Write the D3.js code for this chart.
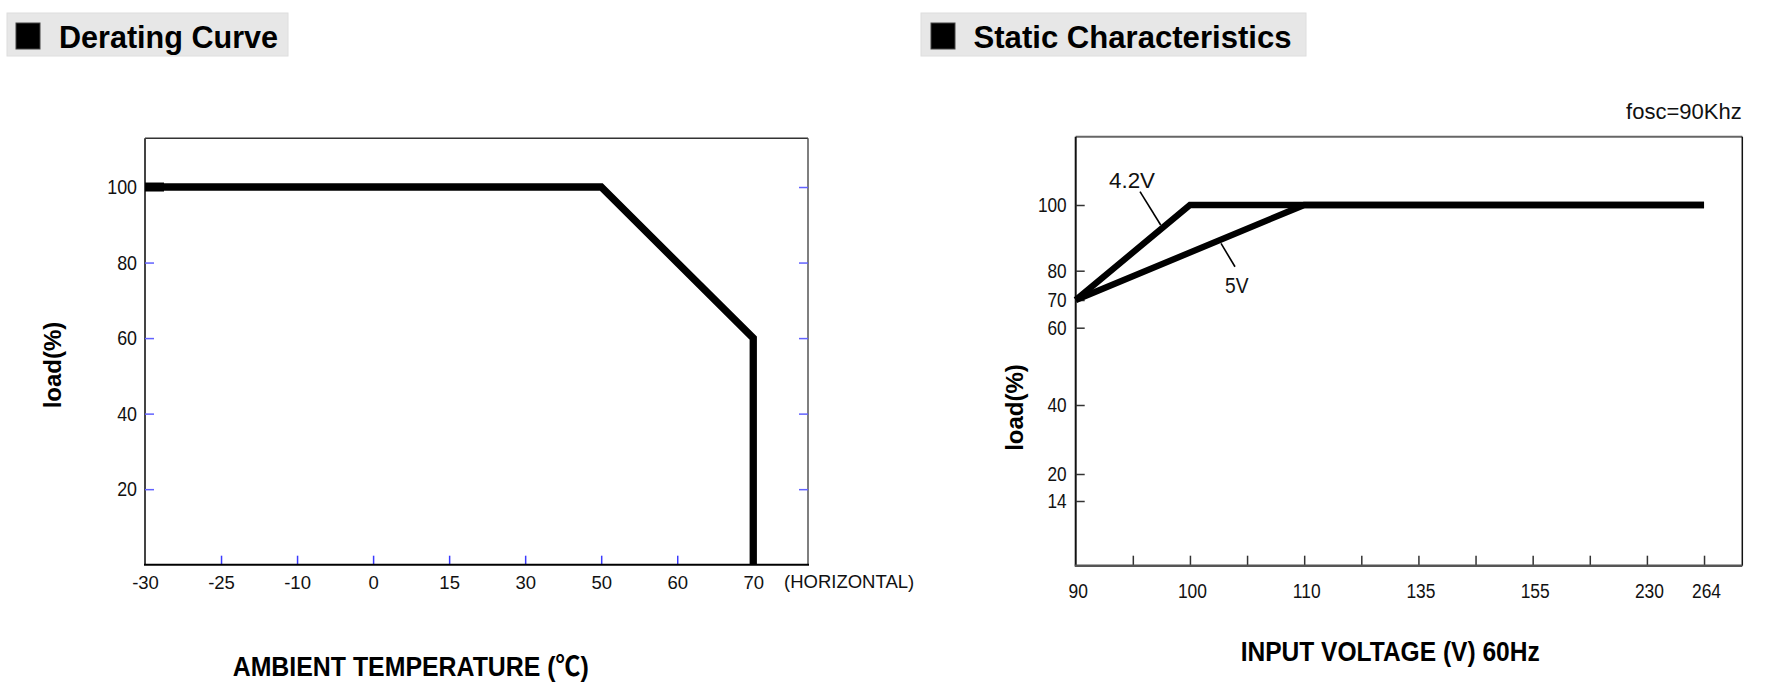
<!DOCTYPE html>
<html><head><meta charset="utf-8">
<script src="https://cdn.jsdelivr.net/npm/d3@7"></script>
<style>
html,body{margin:0;padding:0;background:#fff;}
svg text{font-family:"Liberation Sans",Arial,"Noto Sans CJK SC",sans-serif;}
</style>
</head><body>
<script>
// ---------- DATA ----------
const tempCats = ["-30","-25","-10","0","15","30","50","60","70"];
const loadTicksL = [20,40,60,80,100];
const deratingTemp = ["-30","50","70","70"];
const deratingLoad = [100,100,60,0];

const voltCats = ["90","","100","","110","","135","","155","","230","264"];
const loadTicksR = [100,80,70,60,40,20,14];
const volt42V = ["90","100","264"];
const load42V = [70,100,100];
const volt5V = ["90","110","264"];
const load5V = [70,100,100];

// ---------- SETUP ----------
const W = 1782, H = 696;
const svg = d3.select("body").append("svg").attr("width",W).attr("height",H);
svg.append("rect").attr("width",W).attr("height",H).attr("fill","#fff");

function fit(sel, width){
  sel.each(function(){ this.setAttribute("textLength", width); this.setAttribute("lengthAdjust","spacingAndGlyphs"); });
}
function condense(sel, f){
  sel.each(function(){
    const w = this.getComputedTextLength();
    if (w>0){ this.setAttribute("textLength", w*f); this.setAttribute("lengthAdjust","spacingAndGlyphs"); }
  });
}

function titleBox(x0, x1, sq0, tx, tw, label){
  svg.append("rect").attr("x",x0).attr("y",13).attr("width",x1-x0).attr("height",43)
    .attr("fill","#e7e7e7").attr("stroke","#dedede").attr("stroke-width",1);
  svg.append("rect").attr("x",sq0).attr("y",23).attr("width",24).attr("height",26)
    .attr("fill","#000").attr("stroke","#444").attr("stroke-width",1);
  const t = svg.append("text").attr("x",tx).attr("y",48).attr("font-size",32)
    .attr("font-weight","bold").attr("fill","#000").text(label);
  fit(t, tw);
}
titleBox(7, 288, 16, 59, 219, "Derating Curve");
titleBox(921, 1306, 931, 973.5, 318, "Static Characteristics");

// ---------- LEFT CHART ----------
const xL = d3.scaleLinear().domain([0, 8.72]).range([145, 808]);
const yL = d3.scaleLinear().domain([0, 112.9]).range([564.7, 138.3]);
const [lx0, lx1] = xL.range(), [ly0, ly1] = yL.range();

// frame
svg.append("line").attr("x1",lx0).attr("x2",lx1).attr("y1",ly1).attr("y2",ly1).attr("stroke","#333").attr("stroke-width",1.5);
svg.append("line").attr("x1",lx1).attr("x2",lx1).attr("y1",ly1).attr("y2",ly0).attr("stroke","#555").attr("stroke-width",1.5);
svg.append("line").attr("x1",lx0).attr("x2",lx0).attr("y1",ly1).attr("y2",ly0).attr("stroke","#444").attr("stroke-width",2);

const blue = "#6262ff";
// left y axis
const gyl = svg.append("g").attr("transform",`translate(${lx0},0)`)
  .call(d3.axisLeft(yL).tickValues(loadTicksL).tickSize(-9).tickPadding(8));
gyl.select(".domain").remove();
gyl.selectAll("line").attr("stroke",blue).attr("stroke-width",1.5);
gyl.selectAll("text").attr("font-size",21).attr("fill","#111").attr("font-family",null);
condense(gyl.selectAll("text"), 0.85);
// right-side inner ticks
const gyr = svg.append("g").attr("transform",`translate(${lx1},0)`)
  .call(d3.axisRight(yL).tickValues(loadTicksL).tickSize(-9).tickFormat(""));
gyr.select(".domain").remove();
gyr.selectAll("line").attr("stroke",blue).attr("stroke-width",1.5);
// bottom axis
const gxl = svg.append("g").attr("transform",`translate(0,${ly0})`)
  .call(d3.axisBottom(xL).tickValues(d3.range(tempCats.length)).tickFormat(i=>tempCats[i]).tickSize(-9).tickPadding(11));
gxl.select(".domain").remove();
gxl.selectAll("line").attr("stroke","#3a3aff").attr("stroke-width",1.5).filter(d=>d===0).remove();
gxl.selectAll("text").attr("font-size",18.5).attr("fill","#111");
svg.append("line").attr("x1",lx0-1).attr("x2",lx1+1).attr("y1",ly0).attr("y2",ly0).attr("stroke","#000").attr("stroke-width",2);

// derating line
const derating = deratingTemp.map((t,i)=>({t, v:deratingLoad[i]}));
svg.append("path").datum(derating)
  .attr("d", d3.line().x(d=>xL(tempCats.indexOf(d.t))).y(d=>yL(d.v)))
  .attr("fill","none").attr("stroke","#000").attr("stroke-width",7.3).attr("stroke-linejoin","miter");
// slightly heavier start of the 100% line, as in the reference
svg.append("line").attr("x1",xL(0)).attr("x2",xL(0.25)).attr("y1",yL(deratingLoad[0])).attr("y2",yL(deratingLoad[0]))
  .attr("stroke","#000").attr("stroke-width",9);

svg.append("text").attr("x",784).attr("y",588).attr("font-size",18.5).attr("fill","#111").text("(HORIZONTAL)");

svg.append("text").attr("transform","translate(53,365) rotate(-90)").attr("text-anchor","middle")
  .attr("dy","0.35em").attr("font-size",24).attr("font-weight","bold").attr("fill","#000").text("load(%)");

const tL = svg.append("text").attr("x",232.7).attr("y",676).attr("font-size",27).attr("font-weight","bold")
  .attr("fill","#000").text("AMBIENT TEMPERATURE (℃)");
fit(tL, 356);

// ---------- RIGHT CHART ----------
const xR = d3.scaleLinear().domain([0, 11.67]).range([1075.7, 1742.3]);
const yR = d3.scaleLinear().domain([0,14,20,40,60,70,80,100,120])
  .range([565.7,501,474,405,327.7,300,270.7,205,136.7]);
const rx0 = 1075.7, rx1 = 1742.3, ry0 = 565.7, ry1 = 136.7;

svg.append("line").attr("x1",rx0).attr("x2",rx1).attr("y1",ry1).attr("y2",ry1).attr("stroke","#666").attr("stroke-width",2);
svg.append("line").attr("x1",rx1).attr("x2",rx1).attr("y1",ry1).attr("y2",ry0).attr("stroke","#111").attr("stroke-width",1.5);
svg.append("line").attr("x1",rx0).attr("x2",rx0).attr("y1",ry1).attr("y2",ry0).attr("stroke","#111").attr("stroke-width",2);

const gyR = svg.append("g").attr("transform",`translate(${rx0},0)`)
  .call(d3.axisLeft(yR).tickValues(loadTicksR).tickSize(-9).tickPadding(9).tickFormat(d3.format("d")));
gyR.select(".domain").remove();
gyR.selectAll("line").attr("stroke","#333").attr("stroke-width",1.5);
gyR.selectAll("text").attr("font-size",20.5).attr("fill","#111");
condense(gyR.selectAll("text"), 0.84);

const gxR = svg.append("g").attr("transform",`translate(0,${ry0})`)
  .call(d3.axisBottom(xR).tickValues(d3.range(voltCats.length)).tickFormat(i=>voltCats[i]).tickSize(-10).tickPadding(18));
gxR.select(".domain").remove();
gxR.selectAll("line").attr("stroke","#333").attr("stroke-width",1.5).filter(d=>d===0).remove();
gxR.selectAll("text").attr("font-size",20).attr("fill","#111").attr("x",2);
condense(gxR.selectAll("text"), 0.87);
svg.append("line").attr("x1",rx0-1).attr("x2",rx1).attr("y1",ry0).attr("y2",ry0).attr("stroke","#555").attr("stroke-width",2.5);

const lineR = d3.line().x(d=>xR(voltCats.indexOf(d.v))).y(d=>yR(d.l));
[[volt5V,load5V],[volt42V,load42V]].forEach(([vs,ls])=>{
  svg.append("path").datum(vs.map((v,i)=>({v, l:ls[i]})))
    .attr("d", lineR).attr("fill","none").attr("stroke","#000")
    .attr("stroke-width",6.3).attr("stroke-linejoin","miter");
});

// annotations (data units: voltage index, load)
const annos = [
  {label:"4.2V", at:[0.583,105.1], from:[1.126,103.9], to:[1.488,93.9], w:46},
  {label:"5V",   at:[2.614,72.5],  from:[2.544,88.3],  to:[2.789,81.2], w:23.5}
];
annos.forEach(a=>{
  svg.append("line").attr("x1",xR(a.from[0])).attr("y1",yR(a.from[1]))
    .attr("x2",xR(a.to[0])).attr("y2",yR(a.to[1])).attr("stroke","#000").attr("stroke-width",1.6);
  const t = svg.append("text").attr("x",xR(a.at[0])).attr("y",yR(a.at[1]))
    .attr("font-size",22).attr("fill","#111").text(a.label);
  fit(t, a.w);
});

svg.append("text").attr("x",1741.7).attr("y",119).attr("text-anchor","end")
  .attr("font-size",22).attr("fill","#111").text("fosc=90Khz");

svg.append("text").attr("transform","translate(1014.8,407.5) rotate(-90)").attr("text-anchor","middle")
  .attr("dy","0.35em").attr("font-size",24).attr("font-weight","bold").attr("fill","#000").text("load(%)");

const tR = svg.append("text").attr("x",1240.7).attr("y",661).attr("font-size",27)
  .attr("font-weight","bold").attr("fill","#000").text("INPUT VOLTAGE (V) 60Hz");
fit(tR, 299);
</script>
</body></html>
